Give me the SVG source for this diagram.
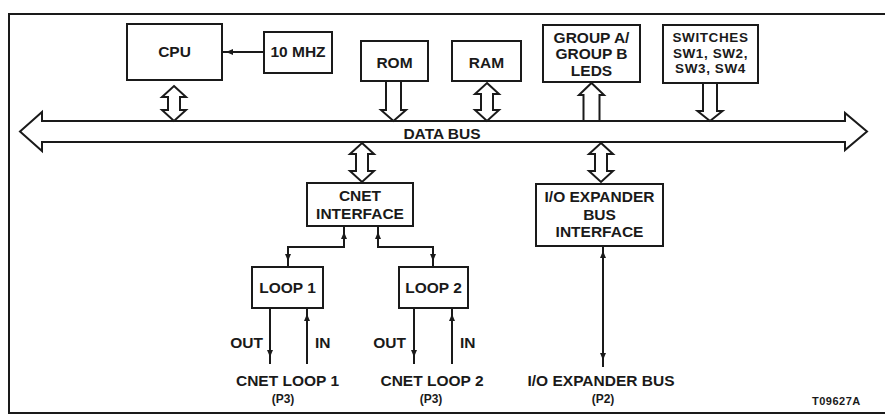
<svg xmlns="http://www.w3.org/2000/svg" width="885" height="416" viewBox="0 0 885 416">
<style>
.box{fill:#fff;stroke:#1a1a1a;stroke-width:2}
.big{fill:#fff;stroke:#1a1a1a;stroke-width:2;stroke-linejoin:miter}
.ln{fill:none;stroke:#1a1a1a;stroke-width:2}
text{font-family:"Liberation Sans",Arial,sans-serif;font-weight:bold;font-size:15.5px;fill:#1a1a1a;text-anchor:middle}
.s{font-size:11px;text-anchor:start;letter-spacing:0.5px}
.p{font-size:12px}
.sw{font-size:13.5px;letter-spacing:0.6px}
.e{text-anchor:end}
.st{text-anchor:start}
</style>
<defs>
<path id="ah" d="M0,0 L-3,-7 L3,-7 Z" fill="#1a1a1a"/>
</defs>
<rect x="0" y="0" width="885" height="416" fill="#fff"/>
<path class="ln" d="M890,14 H9 V413 H890"/>

<g id="connectors">
<polygon class="big" points="20,131.5 42,112 42,121 845,121 845,113 867,131.5 845,150 845,142 42,142 42,151"/>
<polygon class="big" points="174,86 186,97 180,97 180,110 186,110 174,121 162,110 168,110 168,97 162,97"/>
<polygon class="big" points="386,81 401,81 401,110 406,110 393.5,121 381,110 386,110"/>
<polygon class="big" points="487,83 499,94 493,94 493,110 499,110 487,121 475,110 481,110 481,94 475,94"/>
<polygon class="big" points="591.5,83 604,95 599.5,95 599.5,121 583.5,121 583.5,95 579,95"/>
<polygon class="big" points="703,83 717,83 717,111 722.5,111 710,121 697.5,111 703,111"/>
<polygon class="big" points="362,143 374,154 368,154 368,171 374,171 362,182 350,171 356,171 356,154 350,154"/>
<polygon class="big" points="601,143 613,154 607,154 607,171 613,171 601,182 589,171 595,171 595,154 589,154"/>
<path class="ln" d="M222,52 H264"/>
<use href="#ah" transform="translate(226,52) rotate(90)"/>
<path class="ln" d="M344,226 V247 H288 V267"/>
<use href="#ah" transform="translate(344,232) rotate(180)"/>
<use href="#ah" transform="translate(288,261)"/>
<path class="ln" d="M378,226 V247 H433 V267"/>
<use href="#ah" transform="translate(378,232) rotate(180)"/>
<use href="#ah" transform="translate(433,261)"/>
<path class="ln" d="M270,308 V364 M307,308 V364 M414,308 V364 M452,308 V364"/>
<use href="#ah" transform="translate(270,357)"/>
<use href="#ah" transform="translate(307,314) rotate(180)"/>
<use href="#ah" transform="translate(414,357)"/>
<use href="#ah" transform="translate(452,314) rotate(180)"/>
<path class="ln" d="M603,246 V367"/>
<use href="#ah" transform="translate(603,251) rotate(180)"/>
<use href="#ah" transform="translate(603,360)"/>
</g>

<g id="cpu"><rect class="box" x="127" y="24" width="95" height="56"/><text x="174.5" y="57">CPU</text></g>
<g id="clk"><rect class="box" x="264" y="32" width="68" height="41"/><text x="298" y="57">10 MHZ</text></g>
<g id="rom"><rect class="box" x="361" y="41" width="67" height="40"/><text x="394.5" y="68">ROM</text></g>
<g id="ram"><rect class="box" x="452" y="41" width="69" height="40"/><text x="486.5" y="68">RAM</text></g>
<g id="leds"><rect class="box" x="543" y="25" width="97" height="57"/><text x="591.5" y="43">GROUP A/</text><text x="591.5" y="59">GROUP B</text><text x="591.5" y="76">LEDS</text></g>
<g id="switches"><rect class="box" x="663" y="25" width="95" height="58"/><text class="sw" x="710.5" y="42">SWITCHES</text><text class="sw" x="710.5" y="57.5">SW1, SW2,</text><text class="sw" x="710.5" y="73">SW3, SW4</text></g>
<g id="databus"><text x="442" y="139">DATA BUS</text></g>
<g id="cnet"><rect class="box" x="307" y="183" width="106" height="43"/><text x="360" y="201">CNET</text><text x="360" y="219">INTERFACE</text></g>
<g id="ioexp"><rect class="box" x="536" y="184" width="127" height="62"/><text x="599.5" y="202">I/O EXPANDER</text><text x="599.5" y="220">BUS</text><text x="599.5" y="237">INTERFACE</text></g>
<g id="loop1"><rect class="box" x="252" y="267" width="71" height="41"/><text x="287.5" y="293">LOOP 1</text></g>
<g id="loop2"><rect class="box" x="399" y="267" width="69" height="41"/><text x="433.5" y="293">LOOP 2</text></g>
<g id="labels">
<text class="e" x="263" y="348">OUT</text><text class="st" x="315" y="348">IN</text>
<text class="e" x="406" y="348">OUT</text><text class="st" x="460" y="348">IN</text>
<text x="287.5" y="386">CNET LOOP 1</text><text class="p" x="283" y="403">(P3)</text>
<text x="432" y="386">CNET LOOP 2</text><text class="p" x="431" y="403">(P3)</text>
<text x="601" y="386">I/O EXPANDER BUS</text><text class="p" x="603" y="403">(P2)</text>
<text class="s" x="812" y="405">T09627A</text>
</g>
</svg>
